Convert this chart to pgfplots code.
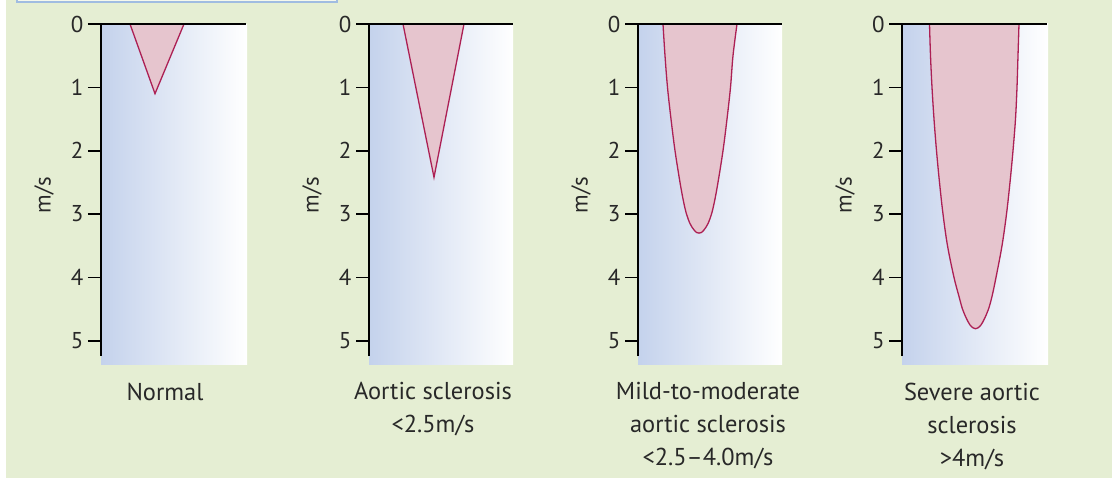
\documentclass[border=0pt]{standalone}
\usepackage{pgfplots}
\pgfplotsset{compat=1.18}
\usepackage{fontspec}
\setmainfont{PT Sans}

\definecolor{bgc}{RGB}{229,238,211}
\definecolor{boxc}{RGB}{160,188,225}
\definecolor{bluec}{RGB}{196,210,236}
\definecolor{pinkc}{RGB}{230,197,206}
\definecolor{crim}{RGB}{172,32,84}
\definecolor{txt}{RGB}{40,40,40}

\pgfplotsset{
  panel/.style={
    scale only axis,
    width=#1bp, height=332bp,
    xmin=0, xmax=#1,
    ymin=0, ymax=5.24,
    y dir=reverse,
    clip=false,
    axis line style={draw=none},
    xtick=\empty,
    ytick={0,1,2,3,4,5},
    ytick pos=left,
    tick align=outside,
    major tick length=13bp,
    tick style={black, line width=1.6bp},
    yticklabel style={font=\fontsize{23}{23}\selectfont, text=txt, xshift=-1bp},
    /pgf/number format/assume math mode=true,
  },
}
\tikzset{
  vshape/.style={fill=pinkc, draw=crim, line width=1.3bp},
  lab/.style={anchor=base, text=txt, font=\fontsize{24.5}{24.5}\selectfont},
}

\newcommand{\panelbg}[1]{%
  \fill[left color=bluec, right color=white] (axis cs:0,0) rectangle (axis cs:#1,5.38);}
\newcommand{\panelaxes}[1]{%
  \draw[black, line width=2.4bp] (axis cs:0,5.24) -- (axis cs:0,0) -- (axis cs:#1,0);
  \node[rotate=90, text=txt, font=\fontsize{23}{23}\selectfont] at (axis cs:-57,2.7) {m/s};}

\begin{document}
\begin{tikzpicture}
\useasboundingbox (0bp,0bp) rectangle (1112bp,478bp);
\fill[white] (0bp,0bp) rectangle (1112bp,478bp);
\fill[bgc] (6bp,0bp) rectangle (1112bp,478bp);
\draw[boxc, line width=1.2bp, fill=white!60!bgc] (17bp,485bp) rectangle (337bp,476bp);

% Normal
\begin{axis}[panel=146, at={(101bp,454bp)}, anchor=north west]
\panelbg{146}
\addplot[vshape] coordinates {(29,0) (54,1.1) (83,0)} -- cycle;
\panelaxes{145}
\node[lab] at (axis cs:64,5.95) {Normal};
\end{axis}

% Aortic sclerosis
\begin{axis}[panel=144, at={(369bp,454bp)}, anchor=north west]
\panelbg{144}
\addplot[vshape] coordinates {(34,0) (65,2.42) (95,0)} -- cycle;
\panelaxes{144}
\node[lab] at (axis cs:64,5.93) {Aortic sclerosis};
\node[lab] at (axis cs:64,6.45) {<2.5m/s};
\end{axis}

% Mild-to-moderate
\begin{axis}[panel=144, at={(638bp,454bp)}, anchor=north west]
\panelbg{144}
\addplot[vshape, smooth, tension=0.55] coordinates {
  (25,0) (27,0.5) (29.5,1) (33,1.5) (37,2) (42,2.5) (45.5,2.8) (48.5,3.0)
  (52,3.15) (55.5,3.24) (58.5,3.29) (61,3.30)
  (63.5,3.29) (66.5,3.24) (70,3.15) (73.5,3.0) (76.5,2.8) (80,2.5) (85,2) (89,1.5)
  (92.5,1) (95,0.5) (99,0)} -- cycle;
\panelaxes{144}
\node[lab] at (axis cs:70,5.93) {Mild-to-moderate};
\node[lab] at (axis cs:70,6.45) {aortic sclerosis};
\node[lab] at (axis cs:70,6.97) {<2.5--4.0m/s};
\end{axis}

% Severe
\begin{axis}[panel=146, at={(902bp,454bp)}, anchor=north west]
\panelbg{146}
\addplot[vshape, smooth, tension=0.55] coordinates {
  (27.5,0) (28.5,0.5) (30,1) (32,1.5) (34.5,2) (37.5,2.5) (41,3) (45.5,3.5)
  (52,4) (57,4.3) (60.5,4.5) (64.5,4.65) (68,4.75) (71,4.795) (73.5,4.81)
  (76,4.795) (79,4.75) (82.5,4.65) (86.5,4.5) (90,4.3) (94,4) (100,3.5) (104.5,3)
  (108,2.5) (111,2) (113.5,1.5) (115,1) (116,0.5) (117,0)} -- cycle;
\panelaxes{145}
\node[lab] at (axis cs:70,5.95) {Severe aortic};
\node[lab] at (axis cs:70,6.47) {sclerosis};
\node[lab] at (axis cs:70,6.99) {>4m/s};
\end{axis}
\end{tikzpicture}
\end{document}
